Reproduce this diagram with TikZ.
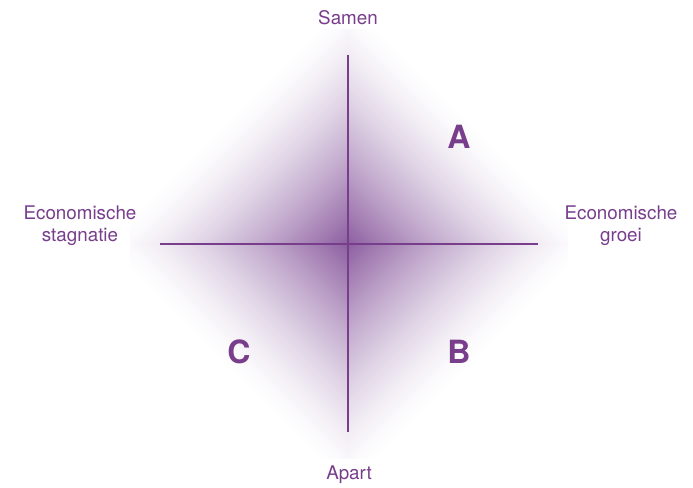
\documentclass[tikz,border=0pt]{standalone}
\usepackage{fontspec}
\setmainfont{TeX Gyre Heros}
\definecolor{purp}{RGB}{120,62,140}
\definecolor{glow}{RGB}{140,94,160}
\begin{document}
\begin{tikzpicture}[x=1pt,y=-1pt,
  lbl/.style={text=purp, font=\fontsize{18.8}{22}\selectfont, align=center, inner sep=0pt},
  quad/.style={text=purp, font=\fontsize{32}{32}\selectfont\bfseries, inner sep=0pt},
  axisline/.style={draw=purp, line width=1.2pt}]
\useasboundingbox (0,0) rectangle (693,487);
\fill[white] (0,0) rectangle (693,487);
\coordinate (ctr) at (348,244);
\begin{scope}
\clip (130,30) rectangle (567,458);
\foreach \i in {0,...,124}{
  \pgfmathsetmacro{\r}{246*(1-\i/125)}
  \pgfmathsetmacro{\t}{100*(\i/125)^1.45}
  \fill[glow!\t!white] (ctr) ++(0,-\r) -- ++(\r,\r) -- ++(-\r,\r) -- ++(-\r,-\r) -- cycle;
}
\end{scope}
\coordinate (top) at (348,55);
\coordinate (bot) at (348,432);
\coordinate (lft) at (160,244);
\coordinate (rgt) at (538,244);
\draw[axisline] (top) -- (bot);
\draw[axisline] (lft) -- (rgt);
\node[lbl] (samen) at (348,18) {Samen};
\node[lbl] (apart) at (349,475) {Apart};
\node[lbl] (stag) at (80,226) {Economische\\stagnatie};
\node[lbl] (groei) at (621,226) {Economische\\groei};
\node[quad] (A) at (459,137) {A};
\node[quad] (B) at (459,352) {B};
\node[quad] (C) at (239,352) {C};
\end{tikzpicture}
\end{document}
